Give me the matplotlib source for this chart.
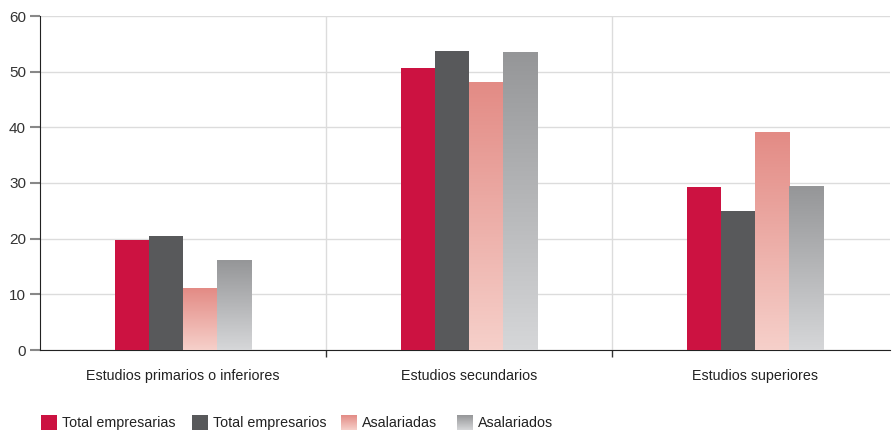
import numpy as np
import matplotlib
matplotlib.use("Agg")
import matplotlib.pyplot as plt
from matplotlib.colors import LinearSegmentedColormap, ListedColormap

plt.rcParams['font.family'] = ['Liberation Sans', 'DejaVu Sans']

categorias = ["Estudios primarios o inferiores", "Estudios secundarios", "Estudios superiores"]
series = ["Total empresarias", "Total empresarios", "Asalariadas", "Asalariados"]
total_empresarias = [19.8, 50.7, 29.3]
total_empresarios = [20.5, 53.7, 25.0]
asalariadas = [11.1, 48.1, 39.0]
asalariados = [16.0, 53.4, 29.3]

rojo = "#CC1241"
gris_osc = "#58595B"
grad_rosa = LinearSegmentedColormap.from_list("rosa", ["#F6D0CA", "#E38B85"])
grad_gris = LinearSegmentedColormap.from_list("gris", ["#D6D7D9", "#959698"])
liso_rojo = ListedColormap([rojo])
liso_gris = ListedColormap([gris_osc])

fig = plt.figure(figsize=(8.93, 4.33), dpi=100)
ax = fig.add_axes([40/893, 83/433, 850/893, 334/433])

x = np.arange(len(categorias))
w = 0.119
offs = [-1.5*w, -0.5*w, 0.5*w, 1.5*w]

ax.bar(x + offs[0], total_empresarias, w, color=rojo, zorder=3)
ax.bar(x + offs[1], total_empresarios, w, color=gris_osc, zorder=3)

grad = np.linspace(0, 1, 256).reshape(-1, 1)
for vals, off, cmap in [(asalariadas, offs[2], grad_rosa), (asalariados, offs[3], grad_gris)]:
    for xi, v in zip(x, vals):
        ax.imshow(grad, cmap=cmap, origin="lower", aspect="auto",
                  extent=[xi + off - w/2, xi + off + w/2, 0, v], zorder=3)

ax.set_xlim(-0.5, 2.472)
ax.set_ylim(0, 60)
ax.set_yticks(range(0, 61, 10))
ax.yaxis.grid(True, color="#DCDCDC", lw=1, zorder=0)
for b in [0.5, 1.5]:
    ax.axvline(b, color="#DCDCDC", lw=1, zorder=0)

ax.set_xticks([0.5, 1.5])
ax.set_xticklabels([])
ax.tick_params(axis="x", length=5, color="#333333", width=1)
ax.tick_params(axis="y", length=7, color="#888888", width=1.5, labelsize=11,
               labelcolor="#333333", pad=3)
for xi, c in zip(x, categorias):
    ax.text(xi, -4.7, c, ha="center", va="center", fontsize=10.3, color="#222222")

for s in ["top", "right"]:
    ax.spines[s].set_visible(False)
ax.spines["left"].set_color("#222222")
ax.spines["bottom"].set_color("#222222")

# leyenda inferior con cuadros degradados, en coordenadas de píxel
lg = fig.add_axes([0, 0, 1, 1], zorder=-1)
lg.set_xlim(0, 893)
lg.set_ylim(433, 0)
lg.axis("off")
marcas_x = [41, 192, 341, 457]
for mx, nombre, cmap in zip(marcas_x, series, [liso_rojo, liso_gris, grad_rosa, grad_gris]):
    lg.imshow(grad, cmap=cmap, origin="lower", aspect="auto",
              extent=[mx, mx + 16, 430, 415])
    lg.text(mx + 21, 423, nombre, ha="left", va="center", fontsize=10.3, color="#222222")

fig.savefig("out.png", dpi=100)
